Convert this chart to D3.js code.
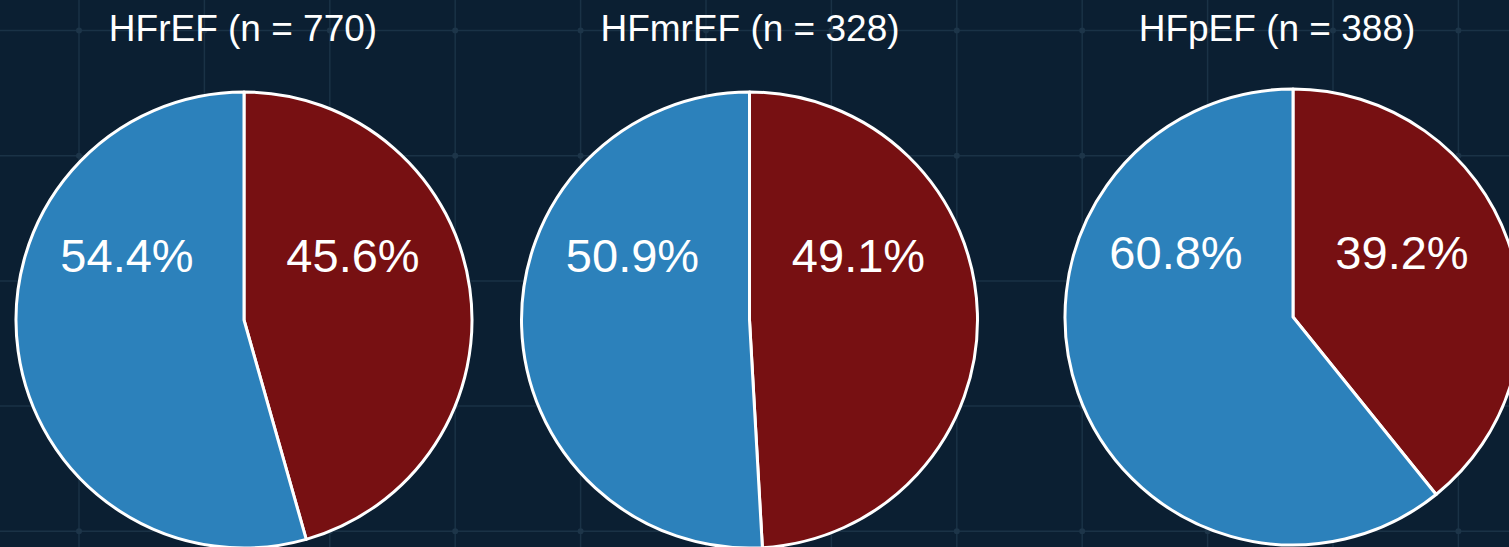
<!DOCTYPE html>
<html>
<head>
<meta charset="utf-8">
<script src="https://cdn.jsdelivr.net/npm/d3@7"></script>
<style>
  html, body { margin: 0; padding: 0; background: #0b1f32; }
  svg { display: block; }
</style>
</head>
<body>
<script>
"use strict"

// Data
const groups = ['HFrEF', 'HFmrEF', 'HFpEF']
const counts = [770, 328, 388]
const blueShare = [54.4, 50.9, 60.8]
const redShare = [45.6, 49.1, 39.2]

// Layout
const width = 1509
const height = 547
const panels = [
  { cx: 244, cy: 320, r: 228, titleX: 243 },
  { cx: 749.5, cy: 320, r: 228, titleX: 750 },
  { cx: 1293, cy: 317, r: 228, titleX: 1277 }
]
const blue = '#2c81bb'
const red = '#771012'
const gridColor = '#1a3246'

const svg = d3.select('body').append('svg')
  .attr('width', width)
  .attr('height', height)

svg.append('rect')
  .attr('width', width)
  .attr('height', height)
  .attr('fill', '#0b1f32')

/****** background grid ******/
const gx = d3.range(79, width, 125.4)
const gy = d3.range(30.5, height, 125.2)
const grid = svg.append('g')
grid.selectAll('line.v').data(gx).enter().append('line')
  .attr('class', 'v')
  .attr('x1', d => d).attr('x2', d => d)
  .attr('y1', 0).attr('y2', height)
  .attr('stroke', gridColor).attr('stroke-width', 1.5)
grid.selectAll('line.h').data(gy).enter().append('line')
  .attr('class', 'h')
  .attr('y1', d => d).attr('y2', d => d)
  .attr('x1', 0).attr('x2', width)
  .attr('stroke', gridColor).attr('stroke-width', 1.5)
grid.selectAll('circle').data(d3.cross(gx, gy)).enter().append('circle')
  .attr('cx', d => d[0]).attr('cy', d => d[1])
  .attr('r', 3)
  .attr('fill', '#1d3549')

/****** pies ******/
// red slice first so it runs clockwise from 12 o'clock, blue fills the rest
const pie = d3.pie().sort(null).value(d => d.value)

groups.forEach((name, i) => {
  const p = panels[i]
  const slices = pie([
    { key: 'red', value: redShare[i], color: red },
    { key: 'blue', value: blueShare[i], color: blue }
  ])
  const arc = d3.arc().innerRadius(0).outerRadius(p.r)

  const g = svg.append('g')
    .attr('transform', `translate(${p.cx},${p.cy})`)

  g.selectAll('path').data(slices).enter().append('path')
    .attr('d', arc)
    .attr('fill', d => d.data.color)
    .attr('stroke', '#fff')
    .attr('stroke-width', 3)
    .attr('stroke-linejoin', 'round')

  // labels sit in the upper half, left or right of the centre line
  g.selectAll('text').data(slices).enter().append('text')
    .attr('x', d => arc.centroid(d)[0] < 0 ? -117 : 109)
    .attr('y', -48)
    .attr('text-anchor', 'middle')
    .attr('font-family', 'Liberation Sans, Arial, sans-serif')
    .attr('font-size', 47)
    .attr('fill', '#fff')
    .text(d => d.data.value.toFixed(1) + '%')

  svg.append('text')
    .attr('x', p.titleX)
    .attr('y', 41)
    .attr('text-anchor', 'middle')
    .attr('font-family', 'Liberation Sans, Arial, sans-serif')
    .attr('font-size', 37)
    .attr('fill', '#fff')
    .text(`${name} (n = ${counts[i]})`)
})
</script>
</body>
</html>
